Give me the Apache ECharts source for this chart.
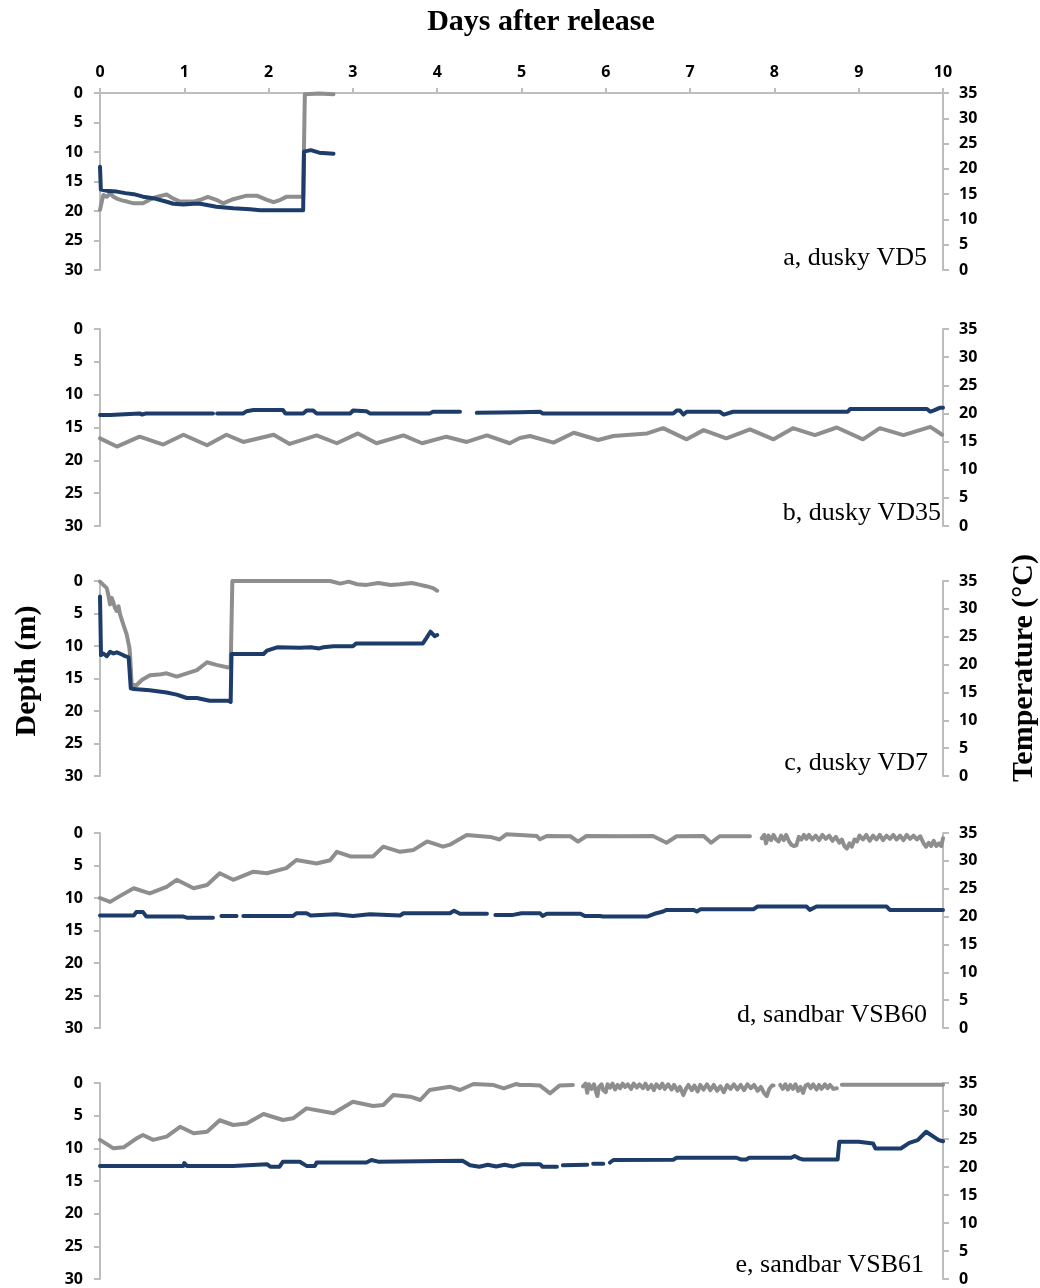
<!DOCTYPE html>
<html><head><meta charset="utf-8">
<script src="https://cdn.jsdelivr.net/npm/echarts/dist/echarts.min.js"></script>
<style>html,body{margin:0;padding:0;background:#fff}#chart{width:1040px;height:1288px}</style>
</head><body><div id="chart"></div><script>
// ---------- data: [day, value]; null = gap in record ----------
const xTicks = [0,1,2,3,4,5,6,7,8,9,10];
const panelLabels = ['a, dusky VD5','b, dusky VD35','c, dusky VD7','d, sandbar VSB60','e, sandbar VSB61'];

// depth (m)
const depthA = [[0,19.8],[0.02,18.5],[0.04,17.3],[0.08,17.6],[0.12,17.0],[0.16,17.6],[0.2,17.9],[0.26,18.2],[0.32,18.4],[0.4,18.7],[0.51,18.7],[0.59,18.1],[0.67,17.6],[0.79,17.2],[0.87,17.9],[0.95,18.4],[1.11,18.4],[1.19,18.1],[1.28,17.6],[1.38,18.1],[1.46,18.7],[1.58,18.0],[1.74,17.4],[1.86,17.4],[1.98,18.1],[2.06,18.5],[2.14,18.1],[2.21,17.6],[2.3,17.6],[2.41,17.6],[2.43,0.2],[2.6,0.1],[2.77,0.2]];
// temperature (°C)
const tempA = [[0,20.4],[0.01,15.9],[0.1,15.6],[0.2,15.5],[0.3,15.2],[0.4,15.0],[0.51,14.5],[0.63,14.2],[0.79,13.5],[0.87,13.1],[0.99,12.95],[1.11,13.1],[1.19,13.1],[1.38,12.5],[1.58,12.2],[1.78,12.0],[1.9,11.8],[2.41,11.8],[2.42,23.4],[2.5,23.7],[2.6,23.2],[2.77,23.0]];

const depthB = [[0,16.65],[0.2,17.9],[0.47,16.4],[0.75,17.6],[0.99,16.1],[1.27,17.7],[1.5,16.1],[1.7,17.2],[2.06,16.1],[2.25,17.5],[2.57,16.2],[2.81,17.4],[3.06,15.9],[3.28,17.4],[3.6,16.2],[3.82,17.4],[4.11,16.4],[4.35,17.2],[4.59,16.2],[4.86,17.4],[4.98,16.6],[5.1,16.3],[5.38,17.3],[5.62,15.8],[5.91,16.9],[6.09,16.3],[6.49,15.9],[6.68,15.1],[6.96,16.8],[7.16,15.4],[7.43,16.65],[7.71,15.3],[7.99,16.8],[8.22,15.1],[8.48,16.15],[8.74,15.0],[9.05,16.8],[9.25,15.1],[9.53,16.15],[9.85,14.9],[9.99,16.1]];
const tempB = [[0,19.7],[0.12,19.7],[0.13,20.0],[0.47,20.0],[0.5,19.8],[0.55,20.0],[1.34,20.0],[1.36,null],[1.39,20.0],[1.7,20.0],[1.74,20.4],[1.82,20.6],[2.17,20.6],[2.2,20.0],[2.41,20.0],[2.45,20.5],[2.53,20.5],[2.57,20.0],[2.97,20.0],[3.0,20.5],[3.16,20.4],[3.2,20.0],[3.91,20.0],[3.95,20.3],[4.27,20.3],[4.37,null],[4.47,20.1],[4.98,20.2],[5.0,20.3],[5.22,20.3],[5.25,20.0],[6.8,20.0],[6.84,20.5],[6.88,20.5],[6.92,19.8],[6.96,20.3],[7.35,20.3],[7.4,19.8],[7.51,20.3],[8.87,20.3],[8.9,20.8],[9.81,20.8],[9.85,20.3],[9.9,20.6],[9.96,21.0],[10,21.0]];

const depthC = [[0,0.1],[0.04,0.6],[0.08,1.1],[0.1,2.2],[0.119,3.6],[0.14,2.6],[0.158,2.8],[0.18,4.2],[0.198,4.6],[0.22,3.9],[0.237,5.1],[0.26,5.4],[0.277,6.7],[0.3,7.0],[0.316,8.2],[0.348,10.2],[0.356,11.3],[0.376,16.0],[0.435,16.0],[0.5,15.2],[0.593,14.5],[0.7,14.4],[0.79,14.2],[0.91,14.7],[1.03,14.2],[1.15,13.7],[1.27,12.5],[1.38,12.9],[1.52,13.3],[1.55,13.3],[1.57,0.0],[2.73,0.0],[2.85,0.4],[2.95,0.1],[3.05,0.5],[3.16,0.6],[3.3,0.3],[3.45,0.6],[3.56,0.5],[3.7,0.3],[3.8,0.6],[3.87,0.8],[3.95,1.1],[4.0,1.5]];
const tempC = [[0,32.2],[0.012,21.7],[0.04,22.0],[0.08,21.5],[0.12,22.3],[0.16,22.0],[0.2,22.2],[0.26,21.8],[0.3,21.5],[0.34,21.3],[0.36,21.2],[0.365,15.75],[0.4,15.6],[0.59,15.4],[0.79,15.0],[0.91,14.6],[1.03,14.0],[1.15,14.0],[1.3,13.5],[1.52,13.5],[1.55,13.3],[1.56,21.9],[1.94,21.9],[1.98,22.5],[2.1,23.1],[2.37,23.0],[2.5,23.1],[2.6,22.9],[2.65,23.1],[2.77,23.3],[3.0,23.3],[3.04,23.8],[3.83,23.8],[3.87,24.7],[3.92,25.9],[3.97,25.1],[4.0,25.3]];

const depthD = [[0,10.0],[0.12,10.6],[0.25,9.6],[0.4,8.5],[0.59,9.3],[0.79,8.3],[0.91,7.2],[1.11,8.5],[1.27,8.0],[1.42,6.2],[1.58,7.2],[1.82,5.95],[1.98,6.2],[2.21,5.4],[2.33,4.15],[2.57,4.7],[2.73,4.2],[2.81,2.9],[2.97,3.6],[3.24,3.6],[3.36,2.1],[3.56,2.9],[3.72,2.6],[3.88,1.3],[4.07,2.1],[4.15,1.8],[4.35,0.3],[4.63,0.6],[4.74,1.0],[4.82,0.2],[4.98,0.3],[5.18,0.46],[5.22,0.97],[5.3,0.46],[5.58,0.5],[5.67,1.33],[5.77,0.46],[6.2,0.5],[6.56,0.46],[6.72,1.5],[6.84,0.5],[7.16,0.46],[7.25,1.5],[7.35,0.5],[7.71,0.5],[7.78,null],
  [7.85,0.8],[7.88,0.3],[7.9,1.6],[7.93,0.4],[7.96,1.1],[7.99,0.3],[8.02,1.0],[8.05,1.3],[8.08,0.4],[8.11,1.1],[8.14,0.3],[8.17,1.2],[8.2,1.8],[8.23,2.0],[8.26,1.9],[8.29,0.6],[8.32,1.0],[8.35,0.3],[8.38,0.9],[8.41,0.3],[8.45,1.0],[8.49,0.4],[8.53,1.1],[8.57,0.3],[8.61,0.9],[8.65,0.4],[8.69,1.2],[8.73,0.6],[8.77,1.5],[8.8,1.0],[8.83,2.0],[8.86,2.4],[8.89,1.6],[8.92,2.1],[8.95,1.0],[8.98,1.3],[9.01,0.4],[9.05,1.0],[9.09,0.3],[9.13,1.2],[9.17,0.4],[9.21,1.0],[9.25,0.3],[9.29,1.1],[9.33,0.4],[9.37,0.9],[9.41,0.3],[9.45,1.0],[9.49,0.4],[9.53,1.1],[9.57,0.3],[9.61,0.9],[9.65,0.4],[9.69,1.0],[9.73,0.5],[9.77,1.6],[9.8,2.1],[9.83,1.5],[9.86,2.0],[9.89,1.2],[9.92,2.0],[9.95,1.6],[9.98,2.0],[10,0.8]];
const tempD = [[0,20.2],[0.4,20.2],[0.43,20.8],[0.51,20.8],[0.55,20.0],[0.99,20.0],[1.03,19.8],[1.34,19.8],[1.39,null],[1.44,20.1],[1.62,20.1],[1.66,null],[1.7,20.1],[2.29,20.1],[2.33,20.6],[2.45,20.6],[2.5,20.2],[2.8,20.4],[3.0,20.1],[3.2,20.4],[3.56,20.2],[3.6,20.6],[4.15,20.6],[4.2,21.05],[4.27,20.5],[4.59,20.5],[4.64,null],[4.69,20.3],[4.9,20.3],[5.0,20.6],[5.22,20.6],[5.25,20.1],[5.3,20.5],[5.7,20.5],[5.75,20.1],[5.93,20.1],[5.97,20.0],[6.49,20.0],[6.6,20.6],[6.68,20.9],[6.72,21.2],[7.04,21.2],[7.08,20.9],[7.12,21.3],[7.75,21.3],[7.8,21.8],[8.38,21.8],[8.42,21.2],[8.5,21.8],[9.33,21.8],[9.37,21.2],[9.96,21.2],[10,21.2]];

const depthE = [[0,8.7],[0.16,10.0],[0.28,9.85],[0.43,8.5],[0.51,7.96],[0.63,8.7],[0.79,8.2],[0.95,6.7],[1.11,7.7],[1.27,7.45],[1.42,5.7],[1.58,6.43],[1.74,6.2],[1.94,4.74],[2.17,5.66],[2.29,5.41],[2.45,3.88],[2.77,4.64],[3.0,2.86],[3.24,3.52],[3.36,3.37],[3.48,1.84],[3.68,2.09],[3.8,2.6],[3.91,1.07],[4.15,0.56],[4.27,1.07],[4.43,0.15],[4.67,0.31],[4.79,0.82],[4.94,0.15],[4.98,0.3],[5.1,0.3],[5.22,0.4],[5.34,1.58],[5.45,0.4],[5.61,0.3],[5.67,null],
  [5.73,0.5],[5.76,0.1],[5.78,1.5],[5.8,0.2],[5.83,0.9],[5.86,0.2],[5.88,1.2],[5.9,2.0],[5.92,0.6],[5.95,0.2],[5.97,1.1],[6.0,1.4],[6.02,0.2],[6.05,0.7],[6.08,0.1],[6.11,1.0],[6.14,0.3],[6.17,0.8],[6.2,0.1],[6.23,0.6],[6.26,0.2],[6.3,0.9],[6.33,0.1],[6.37,0.7],[6.4,0.2],[6.44,0.8],[6.47,0.1],[6.5,0.9],[6.54,0.3],[6.57,1.1],[6.6,0.2],[6.64,0.8],[6.67,0.1],[6.7,0.9],[6.74,0.2],[6.78,1.0],[6.81,0.3],[6.85,1.2],[6.88,0.6],[6.92,1.85],[6.95,0.9],[6.98,0.3],[7.02,1.1],[7.05,0.4],[7.09,1.3],[7.12,0.3],[7.16,1.0],[7.2,0.2],[7.24,1.1],[7.28,0.3],[7.32,1.2],[7.36,0.5],[7.4,1.4],[7.44,0.3],[7.48,0.9],[7.52,0.2],[7.56,1.0],[7.6,0.3],[7.64,1.1],[7.68,0.2],[7.72,0.8],[7.76,0.3],[7.8,1.2],[7.84,0.6],[7.88,1.6],[7.91,2.0],[7.94,0.9],[7.97,0.4],[7.99,0.4],[8.03,null],
  [8.07,0.3],[8.1,0.9],[8.13,0.2],[8.16,1.0],[8.19,0.3],[8.22,0.9],[8.25,0.2],[8.28,1.2],[8.31,0.6],[8.34,1.5],[8.37,0.4],[8.4,0.2],[8.43,0.8],[8.46,0.2],[8.5,1.0],[8.53,0.3],[8.56,0.9],[8.6,0.2],[8.63,0.8],[8.66,0.3],[8.7,0.9],[8.74,0.8],[8.76,null],[8.8,0.25],[10,0.25]];
const tempE = [[0,20.2],[0.99,20.2],[1.0,20.7],[1.03,20.2],[1.58,20.2],[1.6,20.5],[1.98,20.5],[2.02,20.05],[2.13,20.05],[2.17,20.95],[2.37,20.95],[2.45,20.2],[2.55,20.2],[2.57,20.8],[3.16,20.8],[3.22,21.25],[3.3,20.95],[4.3,21.1],[4.39,20.3],[4.5,20.05],[4.6,20.4],[4.7,20.1],[4.8,20.4],[4.9,20.1],[5.0,20.5],[5.22,20.5],[5.25,20.05],[5.42,20.05],[5.45,null],[5.49,20.3],[5.78,20.4],[5.81,null],[5.85,20.6],[5.97,20.6],[6.0,null],[6.05,20.8],[6.09,21.25],[6.8,21.3],[6.84,21.65],[7.55,21.65],[7.6,21.35],[7.67,21.35],[7.7,21.65],[8.2,21.65],[8.24,21.95],[8.3,21.5],[8.34,21.35],[8.75,21.35],[8.77,24.5],[9.0,24.5],[9.17,24.2],[9.2,23.3],[9.5,23.3],[9.6,24.3],[9.7,24.8],[9.8,26.3],[9.9,25.3],[9.95,24.8],[10,24.6]];

const depthSeries = [depthA, depthB, depthC, depthD, depthE];
const tempSeries = [tempA, tempB, tempC, tempD, tempE];

// ---------- layout ----------
const layout = [
  {top: 93, height: 177, lx: 927, ly: 258},
  {top: 329, height: 197, lx: 941, ly: 513},
  {top: 581, height: 195, lx: 928, ly: 763},
  {top: 833, height: 195, lx: 927, ly: 1015},
  {top: 1083, height: 196, lx: 924, ly: 1265}
];
const axisGray = '#bdbdbd';
const tickFont = {fontFamily: '"Open Sans"', fontWeight: 700, fontSize: 16, color: '#000'};
const grid = [], xAxis = [], yAxis = [], series = [], graphic = [];

layout.forEach((L, i) => {
  grid.push({left: 100, width: 843, top: L.top, height: L.height});
  xAxis.push({
    type: 'value', gridIndex: i, min: 0, max: 10, interval: 1, position: 'top', show: i === 0,
    axisLine: {show: true, onZero: false, lineStyle: {color: axisGray, width: 2}},
    axisTick: {show: true, length: 5, lineStyle: {color: axisGray, width: 2}},
    axisLabel: Object.assign({margin: 13, formatter: v => xTicks.includes(v) ? String(v) : ''}, tickFont),
    splitLine: {show: false}
  });
  yAxis.push({
    type: 'value', gridIndex: i, min: 0, max: 30, interval: 5, inverse: true, position: 'left',
    axisLine: {show: true, onZero: false, lineStyle: {color: axisGray, width: 2}},
    axisTick: {show: true, length: 6, lineStyle: {color: axisGray, width: 2}},
    axisLabel: Object.assign({margin: 17}, tickFont),
    splitLine: {show: false}
  });
  yAxis.push({
    type: 'value', gridIndex: i, min: 0, max: 35, interval: 5, position: 'right',
    axisLine: {show: true, onZero: false, lineStyle: {color: axisGray, width: 2}},
    axisTick: {show: true, length: 6, lineStyle: {color: axisGray, width: 2}},
    axisLabel: Object.assign({margin: 16}, tickFont),
    splitLine: {show: false}
  });
  series.push({
    type: 'line', name: 'Depth', xAxisIndex: i, yAxisIndex: 2 * i, data: depthSeries[i],
    showSymbol: false, symbol: 'none', connectNulls: false,
    lineStyle: {color: '#8e8e8e', width: 4, cap: 'round', join: 'round'}, z: 2
  });
  series.push({
    type: 'line', name: 'Temperature', xAxisIndex: i, yAxisIndex: 2 * i + 1, data: tempSeries[i],
    showSymbol: false, symbol: 'none', connectNulls: false,
    lineStyle: {color: '#1d3c6a', width: 4, cap: 'round', join: 'round'}, z: 3
  });
  graphic.push({
    type: 'text', x: L.lx, y: L.ly,
    style: {text: panelLabels[i], font: '26px "Liberation Serif"', fill: '#000', textAlign: 'right', textVerticalAlign: 'middle'}
  });
});

graphic.push({type: 'text', x: 541, y: 22,
  style: {text: 'Days after release', font: 'bold 30px "Liberation Serif"', fill: '#000', textAlign: 'center', textVerticalAlign: 'middle'}});
graphic.push({type: 'text', x: 27, y: 671, rotation: Math.PI / 2,
  style: {text: 'Depth (m)', font: 'bold 30px "Liberation Serif"', fill: '#000', textAlign: 'center', textVerticalAlign: 'middle'}});
graphic.push({type: 'text', x: 1024, y: 668, rotation: Math.PI / 2,
  style: {text: 'Temperature (°C)', font: 'bold 30px "Liberation Serif"', fill: '#000', textAlign: 'center', textVerticalAlign: 'middle'}});

const chart = echarts.init(document.getElementById('chart'), null, {renderer: 'canvas'});
chart.setOption({animation: false, backgroundColor: '#fff', grid, xAxis, yAxis, series, graphic});
</script></body></html>
